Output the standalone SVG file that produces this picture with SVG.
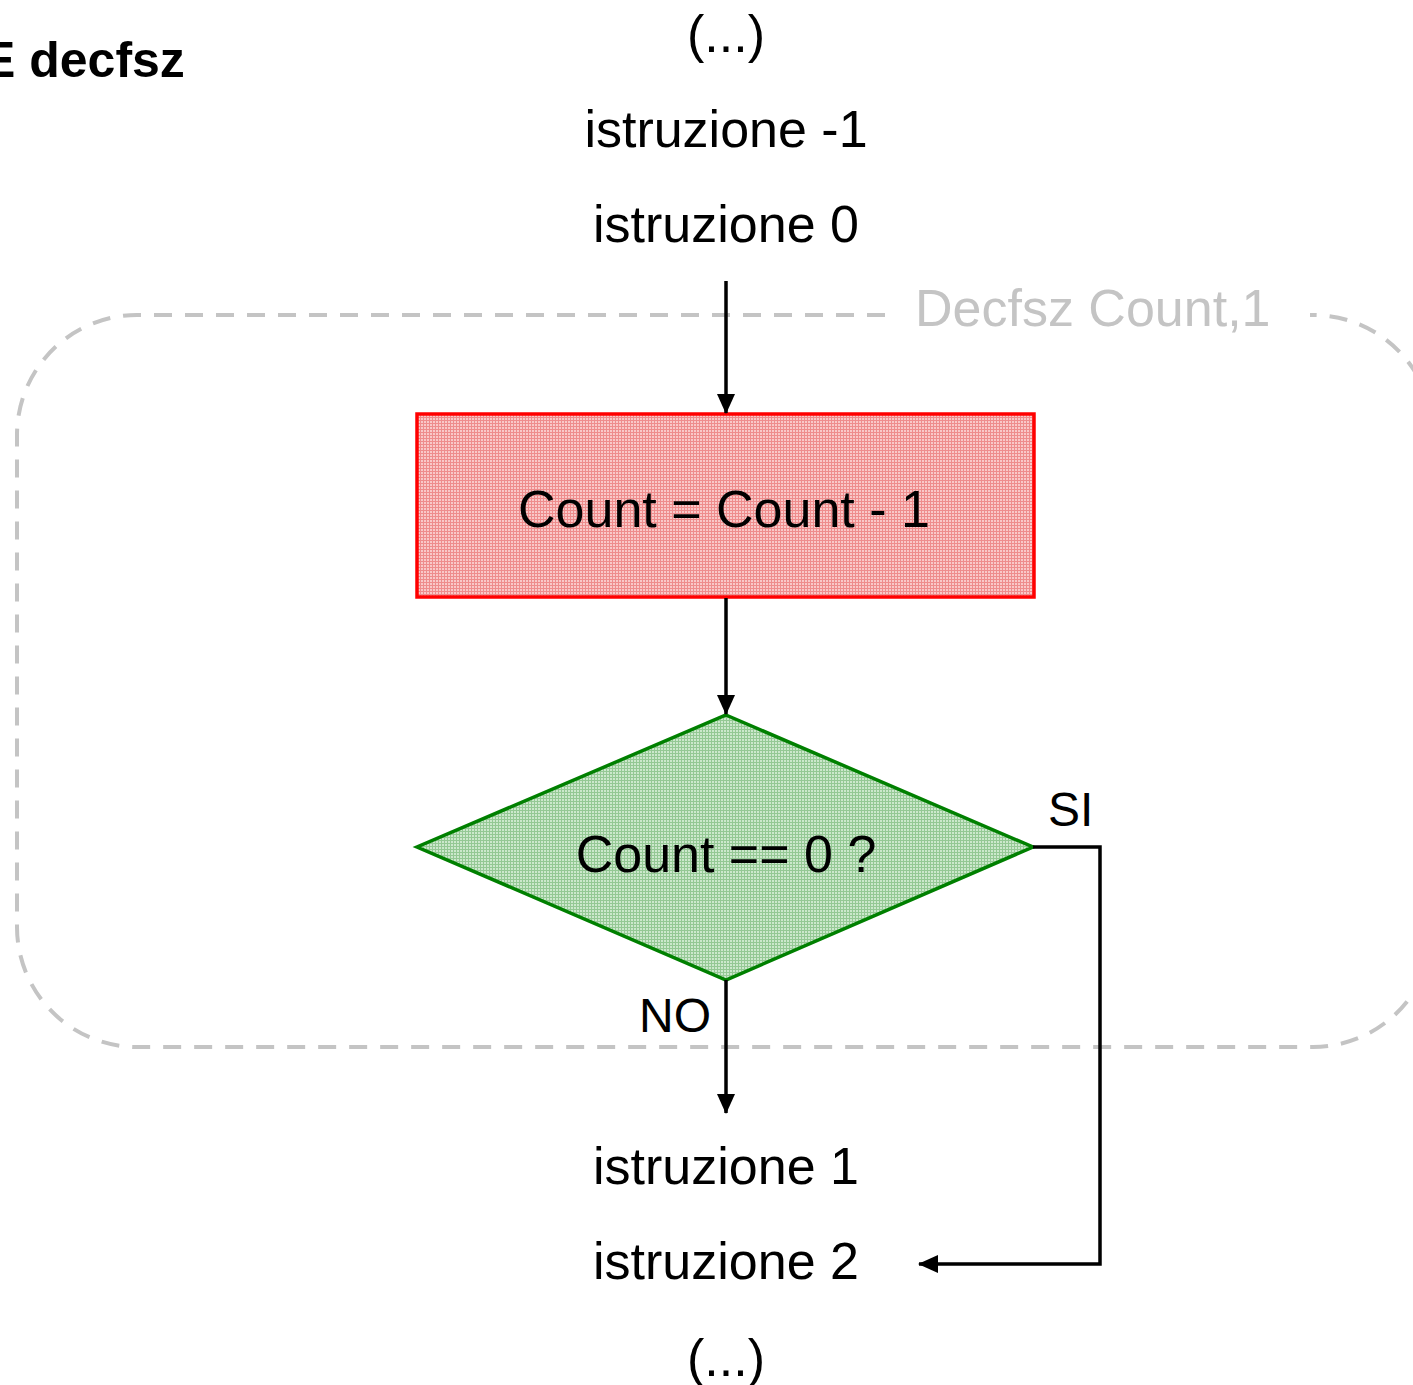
<svg xmlns="http://www.w3.org/2000/svg" width="1413" height="1385" viewBox="0 0 1413 1385">
  <style>
    .t { font-family: "Liberation Sans", Arial, sans-serif; font-size: 52px; fill: #000; }
    .c { text-anchor: middle; }
    .lbl { font-family: "Liberation Sans", Arial, sans-serif; font-size: 48px; fill: #000; }
    .title { font-family: "Liberation Sans", Arial, sans-serif; font-size: 50px; font-weight: bold; fill: #000; }
    .grp { font-family: "Liberation Sans", Arial, sans-serif; font-size: 52px; fill: #c4c4c4; }
    .wire { stroke: #000; stroke-width: 3.5; fill: none; }
  </style>
  <defs>
    <pattern id="redHatch" width="3" height="3" patternUnits="userSpaceOnUse">
      <rect width="3" height="3" fill="#f9c8c8"/>
      <rect width="3" height="1" fill="#ee8c8c"/>
      <rect width="1" height="3" fill="#ee8c8c"/>
    </pattern>
    <pattern id="greenHatch" width="3" height="3" patternUnits="userSpaceOnUse">
      <rect width="3" height="3" fill="#cce8cc"/>
      <rect width="3" height="1" fill="#94c894"/>
      <rect width="1" height="3" fill="#94c894"/>
    </pattern>
    <marker id="arrow" markerWidth="20" markerHeight="20" refX="19" refY="10" orient="auto" markerUnits="userSpaceOnUse" viewBox="0 0 20 20">
      <path d="M0,1 L20,10 L0,19 Z" fill="#000"/>
    </marker>
  </defs>

  <rect width="1413" height="1385" fill="#fff"/>

  <!-- instruction group boundary (decfsz) -->
  <g id="group-decfsz">
    <path d="M885,315 L137,315 A120,120 0 0 0 17,435 L17,927 A120,120 0 0 0 137,1047 L1313,1047 A120,120 0 0 0 1433,927 L1433,435 A120,120 0 0 0 1313,315 L1310,315"
          fill="none" stroke="#c4c4c4" stroke-width="4" stroke-dasharray="18,13"/>
    <text class="grp" x="915" y="326">Decfsz Count,1</text>
  </g>

  <g id="title">
    <text class="title" x="-18" y="77">E decfsz</text>
  </g>

  <g id="prev-dots"><text class="t c" x="726" y="52">(...)</text></g>
  <g id="instr-m1"><text class="t c" x="726" y="147">istruzione -1</text></g>
  <g id="instr-0"><text class="t c" x="726" y="242">istruzione 0</text></g>

  <g id="decrement">
    <rect x="417" y="414" width="617" height="183" fill="url(#redHatch)" stroke="#ff0000" stroke-width="3.5"/>
    <text class="t c" x="724" y="527">Count = Count - 1</text>
  </g>

  <g id="test-zero">
    <polygon points="726,715 1033,847 726,980 417,847" fill="url(#greenHatch)" stroke="#008000" stroke-width="3.5"/>
    <text class="t c" x="726" y="872">Count == 0 ?</text>
  </g>

  <g id="instr-1"><text class="t c" x="726" y="1184">istruzione 1</text></g>
  <g id="instr-2"><text class="t c" x="726" y="1279">istruzione 2</text></g>
  <g id="next-dots"><text class="t c" x="726" y="1376">(...)</text></g>

  <g id="connectors">
    <line class="wire" x1="726" y1="281" x2="726" y2="413" marker-end="url(#arrow)"/>
    <line class="wire" x1="726" y1="598" x2="726" y2="714" marker-end="url(#arrow)"/>
    <line class="wire" x1="726" y1="980" x2="726" y2="1113" marker-end="url(#arrow)"/>
    <polyline class="wire" points="1033,847 1100,847 1100,1264 919,1264" marker-end="url(#arrow)"/>
    <text class="lbl" x="1048" y="826">SI</text>
    <text class="lbl" x="639" y="1032">NO</text>
  </g>
</svg>
